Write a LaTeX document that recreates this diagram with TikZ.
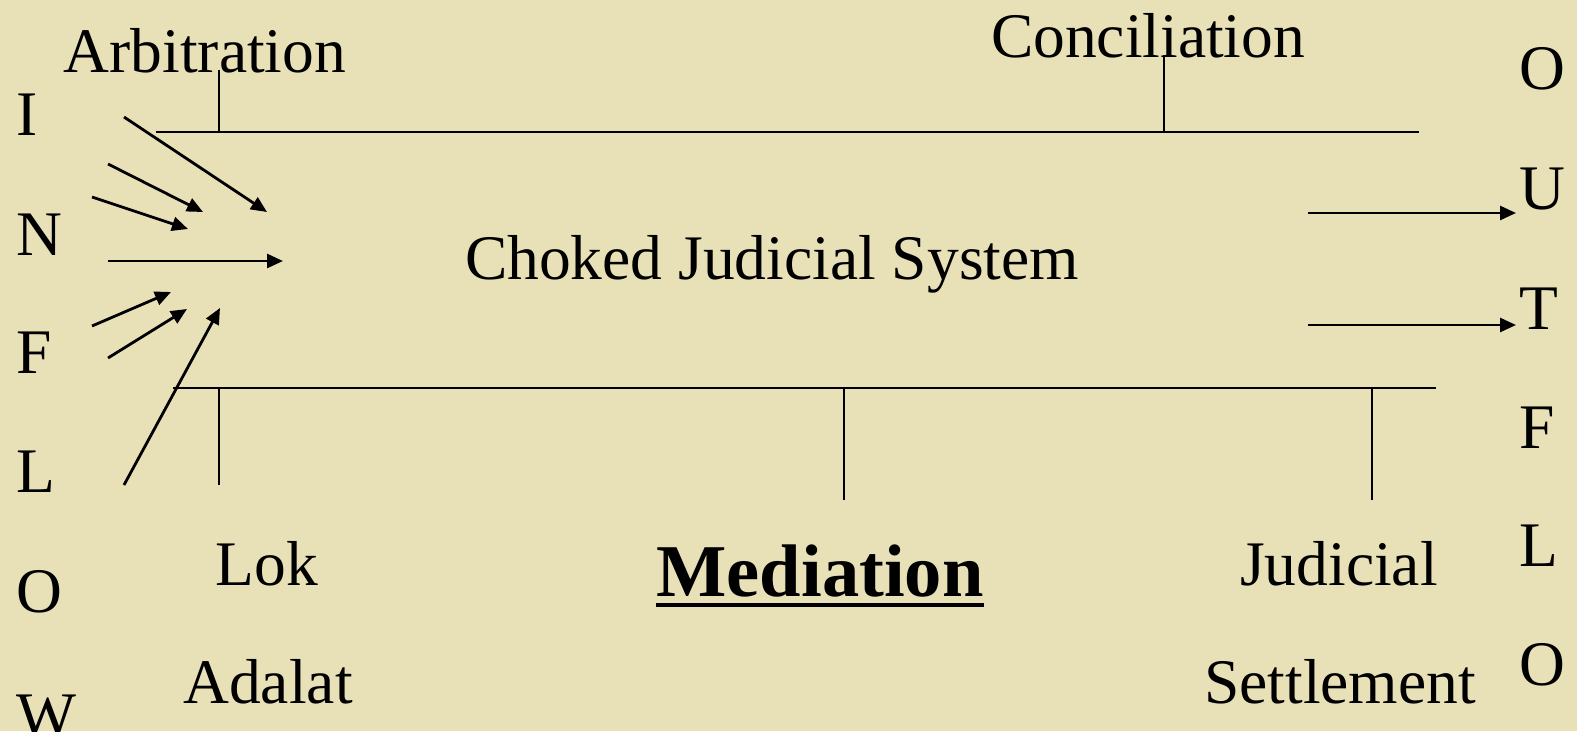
\documentclass[tikz,border=0pt]{standalone}
\usepackage{fontspec}
\setmainfont{Liberation Serif}
\usetikzlibrary{arrows.meta}
\definecolor{bg}{RGB}{232,225,184}
\begin{document}
\begin{tikzpicture}[x=1pt,y=-1pt,
 line/.style={line width=2.8pt},
 arr/.style={line width=2.8pt,-{Triangle[length=16pt,width=14pt]}},
 lbl/.style={inner sep=0,anchor=base,font=\fontsize{63.5}{75}\selectfont},
 letter/.style={inner sep=0,anchor=base west,font=\fontsize{63.5}{75}\selectfont}]
\fill[bg] (0,0) rectangle (1577,731);
\useasboundingbox (0,0) rectangle (1577,731);
% frame lines
\coordinate (t1) at (156,132); \coordinate (t2) at (1419,132);
\coordinate (b1) at (173,388); \coordinate (b2) at (1436,388);
\draw[line] (t1) -- (t2);
\draw[line] (b1) -- (b2);
% ticks
\coordinate (ta) at (219,70); \coordinate (tab) at (219,132);
\coordinate (tc) at (1164,55); \coordinate (tcb) at (1164,132);
\coordinate (l1) at (219,388); \coordinate (l1e) at (219,485);
\coordinate (m1) at (844,388); \coordinate (m1e) at (844,500);
\coordinate (j1) at (1372,388); \coordinate (j1e) at (1372,500);
\draw[line] (ta) -- (tab);
\draw[line] (tc) -- (tcb);
\draw[line] (l1) -- (l1e);
\draw[line] (m1) -- (m1e);
\draw[line] (j1) -- (j1e);
% labels
\node[lbl] (arb) at (205,72) {Arbitration};
\node[lbl] (con) at (1148,57) {Conciliation};
\node[lbl] (cjs) at (772,279) {Choked Judicial System};
\node[lbl] (lok) at (267,585) {Lok};
\node[lbl] (ada) at (268,703) {Adalat};
\node[lbl] (jud) at (1339,585) {Judicial};
\node[lbl] (set) at (1340,703) {Settlement};
\node[inner sep=0,anchor=base,font=\fontsize{74.5}{90}\selectfont\bfseries] (med) at (820,596) {Mediation};
\draw[line width=4pt] (med.base west) ++(0,9) -- ([yshift=-9pt]med.base east);
% inflow letters
\foreach \l/\y [count=\i] in {I/135,N/255,F/373,L/492,O/612,W/736}
  \node[letter] (in\i) at (16,\y) {\l};
% outflow letters
\foreach \l/\y [count=\i] in {O/89,U/209,T/329,F/448,L/566,O/685}
  \node[letter] (out\i) at (1519,\y) {\l};
% inflow arrows
\foreach \a/\b [count=\i] in {{124,117}/{267,212},{108,164}/{203,212},{92,197}/{188,229},{108,261}/{283,261},{92,326}/{171,292},{108,358}/{187,309},{124,485}/{220,308}}{
  \coordinate (ia\i) at (\a); \coordinate (ib\i) at (\b);
  \draw[arr] (ia\i) -- (ib\i);
}
% outflow arrows
\coordinate (oa1) at (1308,213); \coordinate (ob1) at (1516,213);
\coordinate (oa2) at (1308,325); \coordinate (ob2) at (1516,325);
\draw[arr] (oa1) -- (ob1);
\draw[arr] (oa2) -- (ob2);
\end{tikzpicture}
\end{document}
